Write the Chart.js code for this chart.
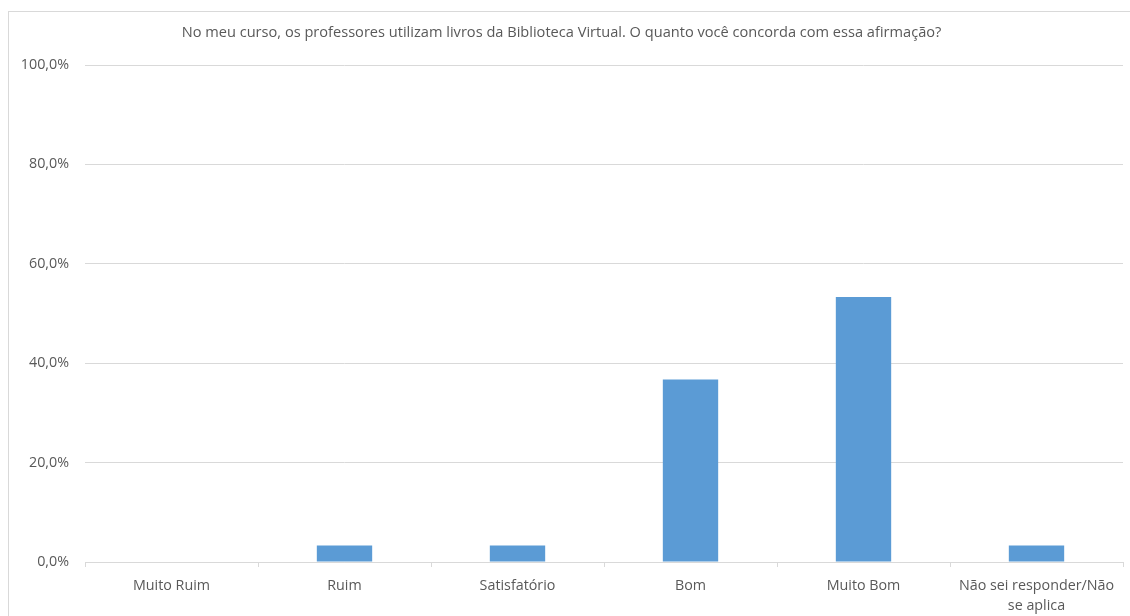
<!DOCTYPE html>
<html>
<head>
<meta charset="utf-8">
<script src="https://cdn.jsdelivr.net/npm/chart.js@4/dist/chart.umd.min.js"></script>
<style>
  html, body { margin: 0; padding: 0; background: #fff; }
  #wrap { position: relative; width: 1130px; height: 616px; overflow: hidden; }
  #frame { position: absolute; left: 8px; top: 11px; width: 1200px; height: 700px; border: 1px solid #d9d9d9; box-sizing: border-box; }
  canvas { position: absolute; left: 0; top: 0; }
</style>
</head>
<body>
<div id="wrap">
  <div id="frame"></div>
  <canvas id="c" width="1130" height="616"></canvas>
</div>
<script>
const titleText = "No meu curso, os professores utilizam livros da Biblioteca Virtual. O quanto você concorda com essa afirmação?";
const categories = ["Muito Ruim", "Ruim", "Satisfatório", "Bom", "Muito Bom", ["Não sei responder/Não", "se aplica"]];
const values = [0, 3.3, 3.3, 36.7, 53.3, 3.3];
const yTicks = [0, 20, 40, 60, 80, 100];

const textColor = "#595959";
const gridColor = "#d9d9d9";
const fontFamily = "'Open Sans', sans-serif";

new Chart(document.getElementById("c"), {
  type: "bar",
  data: {
    labels: categories,
    datasets: [{
      data: values,
      backgroundColor: "#5B9BD5",
      borderWidth: 0,
      barPercentage: 1,
      categoryPercentage: 0.32
    }]
  },
  options: {
    responsive: false,
    animation: false,
    devicePixelRatio: 1,
    layout: { padding: { left: 0, right: 7, top: 0, bottom: 0 } },
    plugins: {
      legend: { display: false },
      tooltip: { enabled: false },
      title: {
        display: true,
        text: titleText,
        color: textColor,
        font: { family: fontFamily, size: 14.6, weight: "normal", lineHeight: 1.2 },
        padding: { top: 24.5, bottom: 23 }
      }
    },
    scales: {
      x: {
        afterFit: (s) => { s.height = 54; },
        grid: { offset: true, drawOnChartArea: false, tickLength: 5, color: gridColor },
        border: { display: true, color: gridColor, width: 1 },
        ticks: { color: textColor, font: { family: fontFamily, size: 14.3, lineHeight: 1.4 }, padding: 9, maxRotation: 0, autoSkip: false }
      },
      y: {
        min: 0,
        max: 100,
        afterFit: (s) => { s.width = 85; },
        afterBuildTicks: (s) => { s.ticks = yTicks.map(v => ({ value: v })); },
        grid: { color: gridColor, drawTicks: false },
        border: { display: false },
        ticks: {
          color: textColor,
          font: { family: fontFamily, size: 14.3 },
          padding: 16,
          callback: (v) => v.toFixed(1).replace(".", ",") + "%"
        }
      }
    }
  }
});
</script>
</body>
</html>
